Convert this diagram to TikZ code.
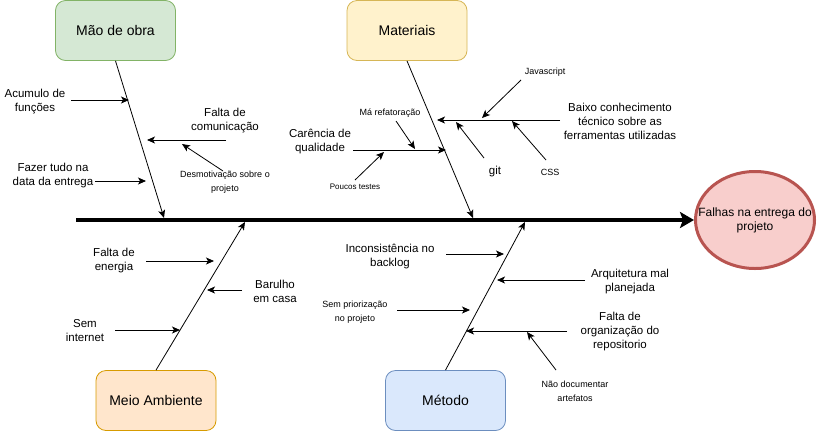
\documentclass[tikz,border=0pt]{standalone}
\usepackage{fontspec}
\setmainfont{Liberation Sans}
\usetikzlibrary{arrows.meta,shapes.geometric}
\definecolor{gfill}{HTML}{D5E8D4}\definecolor{gdraw}{HTML}{82B366}
\definecolor{yfill}{HTML}{FFF2CC}\definecolor{ydraw}{HTML}{D6B656}
\definecolor{ofill}{HTML}{FFE6CC}\definecolor{odraw}{HTML}{D79B00}
\definecolor{bfill}{HTML}{DAE8FC}\definecolor{bdraw}{HTML}{6C8EBF}
\definecolor{rfill}{HTML}{F8CECC}\definecolor{rdraw}{HTML}{B85450}
\tikzset{
  cat/.style={rounded corners=10pt, minimum width=120pt, minimum height=60pt, inner sep=0pt,
    font=\fontsize{14}{16}\selectfont, line width=0.8pt},
  lbl/.style={align=center, inner sep=0pt, font=\fontsize{11.5}{14}\selectfont},
  sml/.style={align=center, inner sep=0pt, font=\fontsize{9}{14}\selectfont},
  tiny/.style={align=center, inner sep=0pt, font=\fontsize{8}{14}\selectfont},
  arr/.style={-{Stealth[length=8pt,width=7pt,inset=2pt]}, line width=0.8pt},
  plain/.style={line width=0.8pt}
}
\begin{document}
\begin{tikzpicture}[x=1pt,y=-1pt]
\useasboundingbox (0,0) rectangle (818,432);
% category boxes
\node[cat, draw=gdraw, fill=gfill] (mao) at (115.5,30.5) {Mão de obra};
\node[cat, draw=ydraw, fill=yfill] (mat) at (407,30.5) {Materiais};
\node[cat, draw=odraw, fill=ofill] (meio) at (156,400.5) {Meio Ambiente};
\node[cat, draw=bdraw, fill=bfill] (met) at (445.5,400.5) {Método};
\node[ellipse, draw=rdraw, fill=rfill, line width=3pt, minimum width=119pt, minimum height=97pt,
  inner sep=0pt] (eff) at (755,220) {};
\node[align=center, inner sep=0pt, font=\fontsize{12}{14}\selectfont] (efft) at (eff.center) {Falhas na entrega do\\projeto};
% spine
\coordinate (s0) at (76,220);
\draw[line width=3.5pt, -{Stealth[length=14pt,width=16pt,inset=3pt]}] (s0) -- (eff.west);
% bones
\coordinate (bm) at (164,218);
\coordinate (bt) at (473,218);
\coordinate (be) at (245,222);
\coordinate (bd) at (525,222);
\draw[arr] (mao.south) -- (bm);
\draw[arr] (mat.south) -- (bt);
\draw[arr] (meio.north) -- (be);
\draw[arr] (met.north) -- (bd);
% Mao de obra
\node[lbl] (acu) at (35,101.5) {Acumulo de\\funções};
\coordinate (acuA) at (71,100); \coordinate (acuB) at (129,100);
\draw[arr] (acuA) -- (acuB);
\node[lbl] (fcom) at (225,121) {Falta de\\comunicação};
\coordinate (fcomA) at (226,140); \coordinate (fcomB) at (147,140);
\draw[arr] (fcomA) -- (fcomB);
\node[sml] (desm) at (225,182) {Desmotivação sobre o\\projeto};
\coordinate (desmA) at (223,171); \coordinate (desmB) at (182,144);
\draw[arr] (desmA) -- (desmB);
\node[lbl] (faz) at (53,176) {Fazer tudo na\\data da entrega};
\coordinate (fazA) at (95,181); \coordinate (fazB) at (146,181);
\draw[arr] (fazA) -- (fazB);
% Materiais
\node[sml] (mar) at (390,113) {Má refatoração};
\coordinate (marA) at (396,121); \coordinate (marB) at (415,149);
\draw[arr] (marA) -- (marB);
\node[lbl] (carq) at (320,141.5) {Carência de\\qualidade};
\coordinate (carA) at (353,150); \coordinate (carB) at (446,150);
\draw[arr] (carA) -- (carB);
\node[tiny] (pouc) at (355,187) {Poucos testes};
\coordinate (poucA) at (355,180); \coordinate (poucB) at (384,152);
\draw[arr] (poucA) -- (poucB);
\node[lbl] (baixo) at (620,121) {Baixo conhecimento\\técnico sobre as\\ferramentas utilizadas};
\coordinate (baixoA) at (560,120); \coordinate (baixoB) at (437,120);
\draw[arr] (baixoA) -- (baixoB);
\node[sml] (js) at (545,72) {Javascript};
\coordinate (jsA) at (521,80); \coordinate (jsB) at (482,118);
\draw[arr] (jsA) -- (jsB);
\node[lbl] (git) at (495,172) {git};
\coordinate (gitA) at (484,158); \coordinate (gitB) at (456,122);
\draw[arr] (gitA) -- (gitB);
\node[sml] (css) at (550,172) {CSS};
\coordinate (cssA) at (546,160); \coordinate (cssB) at (512,121);
\draw[arr] (cssA) -- (cssB);
% Meio Ambiente
\node[lbl] (fen) at (114,261) {Falta de\\energia};
\coordinate (fenA) at (146,261); \coordinate (fenB) at (214,261);
\draw[arr] (fenA) -- (fenB);
\node[lbl] (bar) at (275,291) {Barulho\\em casa};
\coordinate (barA) at (242,290); \coordinate (barB) at (207,290);
\draw[arr] (barA) -- (barB);
\node[lbl] (sint) at (85,331) {Sem\\internet};
\coordinate (sintA) at (115,330); \coordinate (sintB) at (180,330);
\draw[arr] (sintA) -- (sintB);
% Metodo
\node[lbl] (inc) at (390,256.5) {Inconsistência no\\backlog};
\coordinate (incA) at (446,254); \coordinate (incB) at (504,254);
\draw[arr] (incA) -- (incB);
\node[lbl] (arq) at (630,281.5) {Arquitetura mal\\planejada};
\coordinate (arqA) at (585,280); \coordinate (arqB) at (497,280);
\draw[arr] (arqA) -- (arqB);
\node[sml] (spri) at (355,312) {Sem priorização\\no projeto};
\coordinate (spriA) at (397,310); \coordinate (spriB) at (470,310);
\draw[arr] (spriA) -- (spriB);
\node[lbl] (forg) at (620,332) {Falta de\\organização do\\repositorio};
\coordinate (forgA) at (567,331); \coordinate (forgB) at (466,331);
\draw[arr] (forgA) -- (forgB);
\node[sml] (ndoc) at (575,391) {Não documentar\\artefatos};
\coordinate (ndocA) at (556,370); \coordinate (ndocB) at (527,332);
\draw[arr] (ndocA) -- (ndocB);
\end{tikzpicture}
\end{document}
